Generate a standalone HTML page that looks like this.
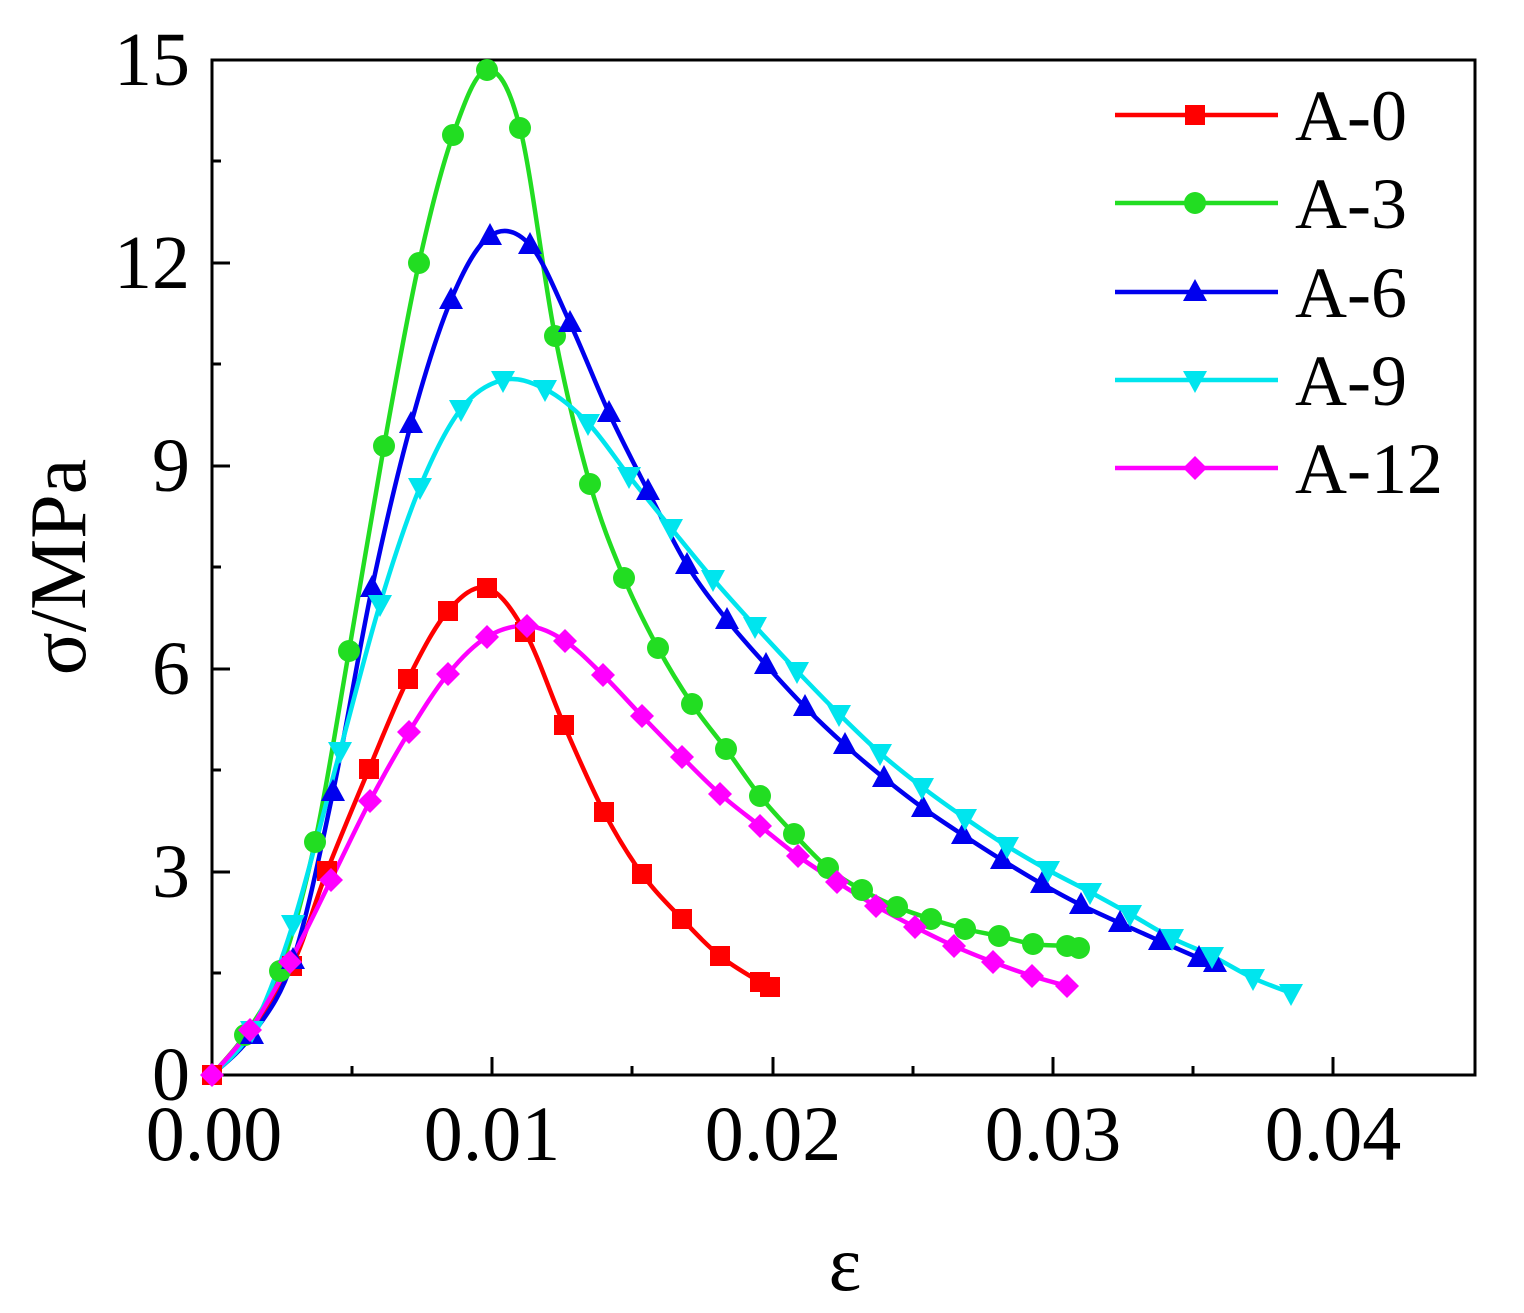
<!DOCTYPE html>
<html><head><meta charset="utf-8"><style>
html,body{margin:0;padding:0;background:#fff}
svg{display:block}
text{font-family:"Liberation Serif",serif;fill:#000}
</style></head><body>
<svg id="s" width="1524" height="1313" viewBox="0 0 1524 1313" xmlns="http://www.w3.org/2000/svg">
<defs>
<g id="sq"><rect x="-10" y="-10" width="20" height="20"/></g>
<g id="ci"><circle r="11"/></g>
<g id="tu"><polygon points="0,-13 12,9 -12,9"/></g>
<g id="td"><polygon points="0,13 12,-9 -12,-9"/></g>
<g id="di"><polygon points="0,-12 12,0 0,12 -12,0"/></g>
</defs>
<rect x="212" y="60" width="1263" height="1015" fill="none" stroke="#000" stroke-width="3"/>
<g stroke="#000" stroke-width="3">
<line x1="212" y1="1075" x2="212" y2="1057"/><line x1="492" y1="1075" x2="492" y2="1057"/><line x1="773" y1="1075" x2="773" y2="1057"/><line x1="1053" y1="1075" x2="1053" y2="1057"/><line x1="1333" y1="1075" x2="1333" y2="1057"/>
<line x1="352" y1="1075" x2="352" y2="1066"/><line x1="632" y1="1075" x2="632" y2="1066"/><line x1="913" y1="1075" x2="913" y2="1066"/><line x1="1193" y1="1075" x2="1193" y2="1066"/>
<line x1="212" y1="872" x2="230" y2="872"/><line x1="212" y1="669" x2="230" y2="669"/><line x1="212" y1="466" x2="230" y2="466"/><line x1="212" y1="263" x2="230" y2="263"/><line x1="212" y1="60" x2="230" y2="60"/>
<line x1="212" y1="973" x2="221" y2="973"/><line x1="212" y1="770" x2="221" y2="770"/><line x1="212" y1="567" x2="221" y2="567"/><line x1="212" y1="364" x2="221" y2="364"/><line x1="212" y1="161" x2="221" y2="161"/>
</g>
<g font-size="78" text-anchor="middle">
<text x="214" y="1160">0.00</text><text x="492" y="1160">0.01</text><text x="773" y="1160">0.02</text><text x="1053" y="1160">0.03</text><text x="1333" y="1160">0.04</text>
</g>
<g font-size="76" text-anchor="end">
<text x="190" y="1100">0</text><text x="190" y="897">3</text><text x="190" y="694">6</text><text x="190" y="491">9</text><text x="190" y="288">12</text><text x="190" y="85">15</text>
</g>
<text x="845" y="1290" font-size="78" text-anchor="middle">ε</text>
<text transform="translate(85,567) rotate(-90)" font-size="80" text-anchor="middle">σ/MPa</text>

<g fill="none" stroke-width="4.5" stroke-linejoin="round" id="curves">
<polyline stroke="#ff0000" points="212,1075 250,1030 292,966 327,871 369,769 408,679 448,611 487,588 525,632 564,725 604,812 642,874 682,919 720,956 760,982 770,987"/>
<polyline stroke="#22dd22" points="212,1075 245,1035 280,971 315,842 349,651 384,446 419,263 453,135 487,70 520,128 555,336 590,484 624,578 658,648 692,704 726,749 760,796 794,834 828,868 862,890 897,907 931,919 965,929 999,936 1033,944 1067,946 1079,948"/>
<polyline stroke="#0000ee" points="212,1075 252,1035 293,960 333,792 372,588 411,424 451,300 490,236 530,245 570,323 609,413 648,491 687,565 727,620 766,665 805,707 845,745 884,778 923,808 963,835 1002,860 1042,884 1081,905 1120,923 1160,941 1199,958 1215,963"/>
<polyline stroke="#00e5ee" points="212,1075 252,1030 293,924 340,751 380,604 420,487 461,409 503,380 545,389 588,423 629,476 671,528 713,579 755,626 797,671 839,714 880,753 922,787 965,818 1007,846 1048,870 1090,892 1130,914 1172,938 1212,956 1253,978 1291,993"/>
<polyline stroke="#ff00ff" points="212,1075 250,1030 290,962 331,880 370,801 409,732 448,674 487,637 527,626 565,641 603,675 642,716 682,757 720,794 760,826 798,856 837,882 876,906 915,927 954,946 993,962 1032,976 1067,986"/>
</g>
<g fill="#ff0000">
<use href="#sq" x="212" y="1075"/><use href="#sq" x="292" y="966"/><use href="#sq" x="327" y="871"/><use href="#sq" x="369" y="769"/><use href="#sq" x="408" y="679"/><use href="#sq" x="448" y="611"/><use href="#sq" x="487" y="588"/><use href="#sq" x="525" y="632"/><use href="#sq" x="564" y="725"/><use href="#sq" x="604" y="812"/><use href="#sq" x="642" y="874"/><use href="#sq" x="682" y="919"/><use href="#sq" x="720" y="956"/><use href="#sq" x="760" y="982"/><use href="#sq" x="770" y="987"/>
</g>
<g fill="#22dd22">
<use href="#ci" x="245" y="1035"/><use href="#ci" x="280" y="971"/><use href="#ci" x="315" y="842"/><use href="#ci" x="349" y="651"/><use href="#ci" x="384" y="446"/><use href="#ci" x="419" y="263"/><use href="#ci" x="453" y="135"/><use href="#ci" x="487" y="70"/><use href="#ci" x="520" y="128"/><use href="#ci" x="555" y="336"/><use href="#ci" x="590" y="484"/><use href="#ci" x="624" y="578"/><use href="#ci" x="658" y="648"/><use href="#ci" x="692" y="704"/><use href="#ci" x="726" y="749"/><use href="#ci" x="760" y="796"/><use href="#ci" x="794" y="834"/><use href="#ci" x="828" y="868"/><use href="#ci" x="862" y="890"/><use href="#ci" x="897" y="907"/><use href="#ci" x="931" y="919"/><use href="#ci" x="965" y="929"/><use href="#ci" x="999" y="936"/><use href="#ci" x="1033" y="944"/><use href="#ci" x="1067" y="946"/><use href="#ci" x="1079" y="948"/>
</g>
<g fill="#0000ee">
<use href="#tu" x="252" y="1035"/><use href="#tu" x="293" y="960"/><use href="#tu" x="333" y="792"/><use href="#tu" x="372" y="588"/><use href="#tu" x="411" y="424"/><use href="#tu" x="451" y="300"/><use href="#tu" x="490" y="236"/><use href="#tu" x="530" y="245"/><use href="#tu" x="570" y="323"/><use href="#tu" x="609" y="413"/><use href="#tu" x="648" y="491"/><use href="#tu" x="687" y="565"/><use href="#tu" x="727" y="620"/><use href="#tu" x="766" y="665"/><use href="#tu" x="805" y="707"/><use href="#tu" x="845" y="745"/><use href="#tu" x="884" y="778"/><use href="#tu" x="923" y="808"/><use href="#tu" x="963" y="835"/><use href="#tu" x="1002" y="860"/><use href="#tu" x="1042" y="884"/><use href="#tu" x="1081" y="905"/><use href="#tu" x="1120" y="923"/><use href="#tu" x="1160" y="941"/><use href="#tu" x="1199" y="958"/><use href="#tu" x="1215" y="963"/>
</g>
<g fill="#00e5ee">
<use href="#td" x="252" y="1030"/><use href="#td" x="293" y="924"/><use href="#td" x="340" y="751"/><use href="#td" x="380" y="604"/><use href="#td" x="420" y="487"/><use href="#td" x="461" y="409"/><use href="#td" x="503" y="380"/><use href="#td" x="545" y="389"/><use href="#td" x="588" y="423"/><use href="#td" x="629" y="476"/><use href="#td" x="671" y="528"/><use href="#td" x="713" y="579"/><use href="#td" x="755" y="626"/><use href="#td" x="797" y="671"/><use href="#td" x="839" y="714"/><use href="#td" x="880" y="753"/><use href="#td" x="922" y="787"/><use href="#td" x="965" y="818"/><use href="#td" x="1007" y="846"/><use href="#td" x="1048" y="870"/><use href="#td" x="1090" y="892"/><use href="#td" x="1130" y="914"/><use href="#td" x="1172" y="938"/><use href="#td" x="1212" y="956"/><use href="#td" x="1253" y="978"/><use href="#td" x="1291" y="993"/>
</g>
<g fill="#ff00ff">
<use href="#di" x="212" y="1075"/><use href="#di" x="250" y="1030"/><use href="#di" x="290" y="962"/><use href="#di" x="331" y="880"/><use href="#di" x="370" y="801"/><use href="#di" x="409" y="732"/><use href="#di" x="448" y="674"/><use href="#di" x="487" y="637"/><use href="#di" x="527" y="626"/><use href="#di" x="565" y="641"/><use href="#di" x="603" y="675"/><use href="#di" x="642" y="716"/><use href="#di" x="682" y="757"/><use href="#di" x="720" y="794"/><use href="#di" x="760" y="826"/><use href="#di" x="798" y="856"/><use href="#di" x="837" y="882"/><use href="#di" x="876" y="906"/><use href="#di" x="915" y="927"/><use href="#di" x="954" y="946"/><use href="#di" x="993" y="962"/><use href="#di" x="1032" y="976"/><use href="#di" x="1067" y="986"/>
</g>
<g stroke-width="4.5">
<line x1="1115" y1="115" x2="1278" y2="115" stroke="#ff0000"/><use href="#sq" x="1195" y="115" fill="#ff0000"/>
<line x1="1115" y1="203" x2="1278" y2="203" stroke="#22dd22"/><use href="#ci" x="1195" y="203" fill="#22dd22"/>
<line x1="1115" y1="292" x2="1278" y2="292" stroke="#0000ee"/><use href="#tu" x="1195" y="292" fill="#0000ee"/>
<line x1="1115" y1="380" x2="1278" y2="380" stroke="#00e5ee"/><use href="#td" x="1195" y="380" fill="#00e5ee"/>
<line x1="1115" y1="468" x2="1278" y2="468" stroke="#ff00ff"/><use href="#di" x="1195" y="468" fill="#ff00ff"/>
</g>
<g font-size="72">
<text x="1295" y="140">A-0</text><text x="1295" y="228">A-3</text><text x="1295" y="317">A-6</text><text x="1295" y="405">A-9</text><text x="1295" y="493">A-12</text>
</g>
</svg>
<script>
document.querySelectorAll('#curves polyline').forEach(function(pl){
  var p=pl.getAttribute('points').trim().split(/\s+/).map(function(s){return s.split(',').map(Number);});
  var d='M'+p[0][0]+','+p[0][1];
  for(var i=0;i<p.length-1;i++){
    var p0=p[i-1]||p[i],p1=p[i],p2=p[i+1],p3=p[i+2]||p2;
    var c1x=p1[0]+(p2[0]-p0[0])/6,c1y=p1[1]+(p2[1]-p0[1])/6;
    var c2x=p2[0]-(p3[0]-p1[0])/6,c2y=p2[1]-(p3[1]-p1[1])/6;
    d+=' C'+c1x+','+c1y+' '+c2x+','+c2y+' '+p2[0]+','+p2[1];
  }
  var path=document.createElementNS('http://www.w3.org/2000/svg','path');
  path.setAttribute('d',d);path.setAttribute('stroke',pl.getAttribute('stroke'));
  pl.parentNode.replaceChild(path,pl);
});
</script>
</body></html>
